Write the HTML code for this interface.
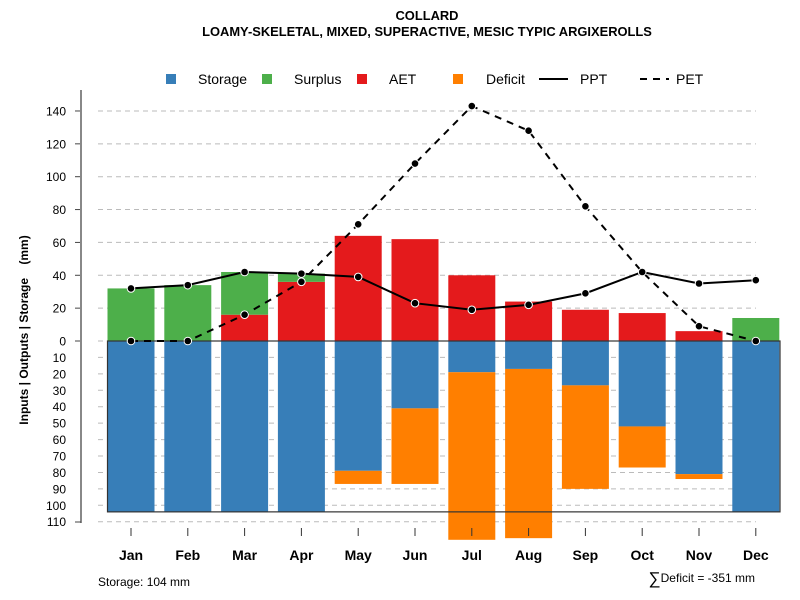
<!DOCTYPE html>
<html><head><meta charset="utf-8"><style>
body{margin:0;background:#fff;}
svg{display:block;font-family:"Liberation Sans",Arial,sans-serif;}
</style></head><body>
<svg id="chart" width="800" height="600" viewBox="0 0 800 600">
<text x="427" y="20" text-anchor="middle" font-size="12.9" font-weight="bold">COLLARD</text>
<text x="427" y="36" text-anchor="middle" font-size="12.9" font-weight="bold">LOAMY-SKELETAL, MIXED, SUPERACTIVE, MESIC TYPIC ARGIXEROLLS</text>
<g>
<rect x="166" y="74" width="10" height="10" fill="#377eb8"/>
<text x="198" y="84" font-size="14">Storage</text>
<rect x="262" y="74" width="10" height="10" fill="#4daf4a"/>
<text x="294" y="84" font-size="14">Surplus</text>
<rect x="357" y="74" width="10" height="10" fill="#e41a1c"/>
<text x="389" y="84" font-size="14">AET</text>
<rect x="453" y="74" width="10" height="10" fill="#ff7f00"/>
<text x="486" y="84" font-size="14">Deficit</text>
<line x1="539" y1="79" x2="568" y2="79" stroke="#000" stroke-width="2"/>
<text x="580" y="84" font-size="14">PPT</text>
<line x1="640" y1="79" x2="669" y2="79" stroke="#000" stroke-width="2" stroke-dasharray="7,6"/>
<text x="676" y="84" font-size="14">PET</text>
</g>
<text transform="translate(28,330) rotate(-90)" text-anchor="middle" font-size="12" font-weight="bold">Inputs | Outputs | Storage&#160;&#160;&#160;&#160;(mm)</text>
<g id="grid"></g><g id="bars"></g><g id="axes"></g><g id="lines"></g>
<text x="98" y="586" font-size="12">Storage: 104 mm</text>
<text x="755" y="582" text-anchor="end" font-size="12"><tspan font-size="17" dy="2">∑</tspan><tspan dy="-2">Deficit = -351 mm</tspan></text>
</svg>
<script>
const months=["Jan","Feb","Mar","Apr","May","Jun","Jul","Aug","Sep","Oct","Nov","Dec"];
const ppt=[32,34,42,41,39,23,19,22,29,42,35,37];
const pet=[0,0,16,36,71,108,143,128,82,42,9,0];
const aet=[0,0,16,36,64,62,40,24,19,17,6,0];
const surplus=[32,34,26,5,0,0,0,0,0,0,0,14];
const storage=[104,104,104,104,79,41,19,17,27,52,81,104];
const deficit=[0,0,0,0,8,46,102,103,63,25,3,0];
const upTicks=[0,20,40,60,80,100,120,140];
const downTicks=[10,20,30,40,50,60,70,80,90,100,110];
const SC=1.643, Y0=341;
const yUp=v=>Y0-v*SC, yDn=v=>Y0+v*SC;
const xC=i=>131+i*56.8, BW=47;
const NS="http://www.w3.org/2000/svg";
function mk(p,t,a){const e=document.createElementNS(NS,t);for(const k in a)e.setAttribute(k,a[k]);p.appendChild(e);return e;}
const G=document.getElementById('grid'),B=document.getElementById('bars'),A=document.getElementById('axes'),L=document.getElementById('lines');
upTicks.forEach(v=>{if(v>0){const l=mk(G,'line',{x1:98,x2:756,y1:yUp(v),y2:yUp(v),stroke:'#bbb','stroke-dasharray':'5,4'});

}
const t=mk(A,'text',{x:66,y:yUp(v)+4.5,'text-anchor':'end','font-size':12});t.textContent=v;


mk(A,'line',{x1:75,x2:81,y1:yUp(v),y2:yUp(v),stroke:'#444'});});
downTicks.forEach(v=>{const l=mk(G,'line',{x1:98,x2:756,y1:yDn(v),y2:yDn(v),stroke:'#bbb','stroke-dasharray':'5,4'});


const t=mk(A,'text',{x:66,y:yDn(v)+4.5,'text-anchor':'end','font-size':12});t.textContent=v;

});
mk(G,'line',{x1:98,x2:756,y1:Y0,y2:Y0,stroke:'#bbb','stroke-dasharray':'5,4'});
mk(A,'line',{x1:81,x2:81,y1:90,y2:523,stroke:'#888','stroke-width':2});
mk(A,'line',{x1:75,x2:81,y1:522,y2:522,stroke:'#444'});
months.forEach((m,i)=>{const x=xC(i)-BW/2;
const r1=mk(B,'rect',{x:x,y:yUp(aet[i]),width:BW,height:aet[i]*SC,fill:'#e41a1c'});


const r2=mk(B,'rect',{x:x,y:yUp(aet[i]+surplus[i]),width:BW,height:surplus[i]*SC,fill:'#4daf4a'});


const r3=mk(B,'rect',{x:x,y:Y0,width:BW,height:storage[i]*SC,fill:'#377eb8'});


const r4=mk(B,'rect',{x:x,y:yDn(storage[i]),width:BW,height:deficit[i]*SC,fill:'#ff7f00'});


mk(A,'line',{x1:xC(i),x2:xC(i),y1:528,y2:536,stroke:'#333'});
const t=mk(A,'text',{x:xC(i),y:560,'text-anchor':'middle','font-size':14,'font-weight':'bold'});t.textContent=m;

});
mk(B,'rect',{x:xC(0)-BW/2,y:Y0,width:780-(xC(0)-BW/2),height:104*SC,fill:'none',stroke:'#333','stroke-width':1.2});
const pp=mk(L,'polyline',{points:ppt.map((v,i)=>xC(i)+','+yUp(v)).join(' '),fill:'none',stroke:'#000','stroke-width':2});


const pe=mk(L,'polyline',{points:pet.map((v,i)=>xC(i)+','+yUp(v)).join(' '),fill:'none',stroke:'#000','stroke-width':2,'stroke-dasharray':'7,6'});


[ppt,pet].forEach((s,k)=>s.forEach((v,i)=>{const c=mk(L,'circle',{cx:xC(i),cy:yUp(v),r:3.8,fill:'#000',stroke:'#fff','stroke-width':1});

}));
</script>
</body></html>
